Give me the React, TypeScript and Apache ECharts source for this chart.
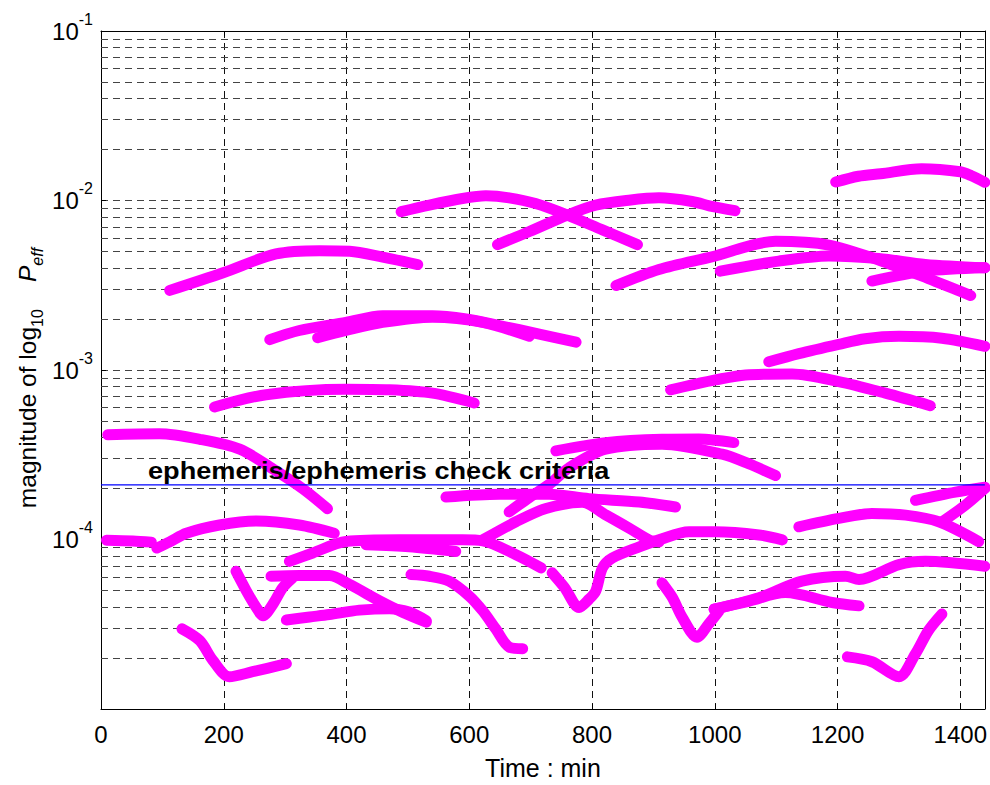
import React, { useEffect, useRef } from 'react';
import * as echarts from 'echarts';

// ---- axes / ticks ----
const xMin = 0;
const xMax = 1440;
const xInterval = 200;
const yMin = 1e-5;
const yMax = 1e-1;
const yMinorGrid = [
  2e-5, 3e-5, 4e-5, 5e-5, 6e-5, 7e-5, 8e-5, 9e-5,
  2e-4, 3e-4, 4e-4, 5e-4, 6e-4, 7e-4, 8e-4, 9e-4,
  2e-3, 3e-3, 4e-3, 5e-3, 6e-3, 7e-3, 8e-3, 9e-3,
  2e-2, 3e-2, 4e-2, 5e-2, 6e-2, 7e-2, 8e-2, 9e-2,
];
const criteriaValue = 2.1e-4;
const criteriaText = 'ephemeris/ephemeris check criteria';
const xAxisTitle = 'Time : min';

// ---- arcs: [time (min), P_eff] ----
const arcTopRight = [[1197, 0.01285], [1234, 0.0139], [1270, 0.01438], [1337, 0.01538], [1400, 0.01477], [1418, 0.014], [1440, 0.0128]];
const arcA = [[489, 0.00859], [535, 0.00939], [589, 0.01027], [627, 0.01065], [665, 0.01037], [708, 0.0096], [760, 0.00821], [817, 0.00671], [874, 0.00549]];
const arcB = [[646, 0.00549], [698, 0.00656], [760, 0.00821], [806, 0.00939], [860, 0.01004], [909, 0.01037], [963, 0.00987], [995, 0.00923], [1033, 0.00871]];
const arcC = [[112, 0.00295], [199, 0.00375], [285, 0.00484], [356, 0.00506], [405, 0.00502], [459, 0.00463], [516, 0.00419]];
const arcD = [[839, 0.00315], [909, 0.00392], [995, 0.00465], [1099, 0.00574], [1186, 0.00546], [1267, 0.00446], [1348, 0.00346], [1417, 0.00275]];
const arcE = [[1009, 0.00383], [1104, 0.00439], [1186, 0.00471], [1267, 0.00455], [1343, 0.0042], [1440, 0.00401]];
const arcF = [[1256, 0.00335], [1343, 0.00383], [1440, 0.00401]];
const arcG = [[275, 0.00151], [323, 0.00171], [399, 0.00191], [459, 0.00209], [540, 0.00209], [595, 0.002], [649, 0.00183], [714, 0.00163], [774, 0.00146]];
const arcH = [[353, 0.00155], [399, 0.00171], [459, 0.00191], [540, 0.00205], [622, 0.00191], [698, 0.00158]];
const arcI = [[185, 0.000605], [269, 0.000715], [399, 0.00077], [470, 0.000764], [540, 0.00073], [608, 0.000639]];
const arcJ = [[1088, 0.001118], [1137, 0.00125], [1202, 0.001418], [1245, 0.00153], [1300, 0.001579], [1370, 0.00154], [1440, 0.00138]];
const arcK = [[928, 0.000764], [963, 0.000817], [1001, 0.000874], [1050, 0.000935], [1126, 0.000948], [1202, 0.000855], [1278, 0.00073], [1351, 0.000616]];
const arcL = [[11, 4.15e-4], [95, 4.2e-4], [161, 3.9e-4], [226, 3.41e-4], [280, 2.61e-4], [329, 1.99e-4], [369, 1.52e-4]];
const arcM1 = [[9, 0.99e-4], [52, 0.98e-4], [82, 0.965e-4]];
const arcM2 = [[91, 0.89e-4], [112, 0.968e-4], [139, 1.088e-4], [193, 1.217e-4], [253, 1.284e-4], [323, 1.217e-4], [380, 1.088e-4]];
const arcN = [[307, 0.743e-4], [345, 0.833e-4], [399, 0.972e-4], [486, 0.995e-4], [589, 0.995e-4], [622, 0.981e-4], [676, 0.813e-4], [717, 0.68e-4]];
const arcN2 = [[432, 0.93e-4], [502, 0.905e-4], [578, 0.85e-4]];
const arcO = [[622, 0.995e-4], [676, 1.272e-4], [725, 1.523e-4], [784, 1.658e-4], [823, 1.392e-4], [860, 1.169e-4], [893, 0.995e-4], [909, 0.968e-4]];
const arcS = [[505, 0.621e-4], [535, 0.607e-4], [567, 0.568e-4], [600, 0.464e-4], [622, 0.379e-4], [643, 0.297e-4], [665, 0.232e-4], [687, 0.227e-4]];
const arcP = [[277, 0.607e-4], [323, 0.613e-4], [372, 0.613e-4], [405, 0.543e-4], [454, 0.434e-4], [492, 0.371e-4], [530, 0.325e-4]];
const arcQ = [[302, 0.335e-4], [340, 0.349e-4], [372, 0.361e-4], [421, 0.383e-4], [470, 0.391e-4], [502, 0.373e-4], [530, 0.332e-4]];
const arcR = [[132, 0.297e-4], [161, 0.253e-4], [182, 0.194e-4], [209, 0.155e-4], [247, 0.166e-4], [302, 0.185e-4]];
const arcV1 = [[220, 0.649e-4], [237, 0.496e-4], [253, 0.397e-4], [264, 0.355e-4], [280, 0.415e-4], [296, 0.519e-4], [312, 0.594e-4]];
const arcT = [[735, 0.636e-4], [755, 0.522e-4], [779, 0.397e-4], [795, 0.444e-4], [806, 0.496e-4], [817, 0.68e-4], [833, 0.778e-4], [877, 0.906e-4], [909, 0.995e-4], [958, 1.112e-4], [1001, 1.112e-4], [1072, 1.064e-4], [1110, 0.995e-4]];
const arcW = [[1137, 1.189e-4], [1202, 1.332e-4], [1256, 1.424e-4], [1311, 1.392e-4], [1365, 1.272e-4], [1430, 0.972e-4]];
const arcX = [[1370, 1.267e-4], [1408, 1.592e-4], [1440, 2.0e-4]];
const arcEE = [[1327, 1.703e-4], [1392, 1.904e-4], [1440, 2.035e-4]];
const arcDD = [[562, 1.78e-4], [649, 1.849e-4], [730, 1.849e-4], [795, 1.742e-4], [877, 1.664e-4], [936, 1.556e-4]];
const arcCC = [[665, 1.455e-4], [698, 1.773e-4], [730, 2.111e-4], [763, 2.655e-4], [822, 3.41e-4], [914, 3.65e-4], [1012, 3.19e-4], [1055, 2.8e-4], [1099, 2.383e-4]];
const arcBB = [[741, 3.335e-4], [822, 3.73e-4], [914, 3.904e-4], [974, 3.92e-4], [1031, 3.73e-4]];
const arcY = [[914, 0.555e-4], [931, 0.454e-4], [947, 0.347e-4], [971, 0.265e-4], [990, 0.317e-4], [1007, 0.379e-4]];
const arcZ = [[999, 0.388e-4], [1072, 0.454e-4], [1142, 0.568e-4], [1213, 0.607e-4], [1235, 0.581e-4], [1300, 0.711e-4], [1343, 0.743e-4], [1440, 0.695e-4]];
const arcAA = [[999, 0.388e-4], [1055, 0.432e-4], [1115, 0.486e-4], [1191, 0.425e-4], [1235, 0.406e-4]];
const arcAB = [[1216, 0.203e-4], [1256, 0.19e-4], [1300, 0.155e-4], [1327, 0.212e-4], [1348, 0.29e-4], [1370, 0.363e-4]];

const allArcs = [
  arcTopRight, arcA, arcB, arcC, arcD, arcE, arcF, arcG, arcH, arcI, arcJ, arcK,
  arcL, arcM1, arcM2, arcN, arcN2, arcO, arcS, arcP, arcQ, arcR, arcV1, arcT,
  arcW, arcX, arcEE, arcDD, arcCC, arcBB, arcY, arcZ, arcAA, arcAB,
];

const FONT = '"Liberation Sans", Arial, sans-serif';

export default function App() {
  const ref = useRef<HTMLDivElement>(null);
  useEffect(() => {
    if (!ref.current) return;
    const chart = echarts.init(ref.current, undefined, { renderer: 'svg' });
    const gridDash = [7, 5];
    const arcSeries = allArcs.map((d) => ({
      type: 'line',
      data: d,
      symbol: 'none',
      smooth: 0.3,
      silent: true,
      z: 3,
      color: '#ff00ff',
      lineStyle: { color: '#ff00ff', width: 11, cap: 'round', join: 'round' },
    }));
    const option: any = {
      animation: false,
      grid: { left: 101, top: 31, width: 887, height: 686, containLabel: false },
      xAxis: [
        {
          type: 'value', min: xMin, max: xMax, interval: xInterval,
          axisLine: { show: true, onZero: false, lineStyle: { color: '#000', width: 1 } },
          axisTick: { show: true, inside: true, length: 5, lineStyle: { color: '#000' } },
          axisLabel: {
            show: true, margin: 13, showMaxLabel: false, color: '#000', fontSize: 24, fontFamily: FONT,
            formatter: (v: number) => String(v),
          },
          splitLine: { show: true, lineStyle: { type: gridDash, color: '#111', width: 1 } },
          name: xAxisTitle, nameLocation: 'middle', nameGap: 46,
          nameTextStyle: { color: '#000', fontSize: 25, fontFamily: FONT },
        },
        {
          type: 'value', min: xMin, max: xMax, interval: xInterval, position: 'top',
          axisLine: { show: true, onZero: false, lineStyle: { color: '#000', width: 1 } },
          axisTick: { show: true, inside: true, length: 5, lineStyle: { color: '#000' } },
          axisLabel: { show: false }, splitLine: { show: false },
        },
      ],
      yAxis: [
        {
          type: 'log', logBase: 10, min: yMin, max: yMax,
          axisLine: { show: true, onZero: false, lineStyle: { color: '#000', width: 1 } },
          axisTick: { show: true, inside: true, length: 5, lineStyle: { color: '#000' } },
          axisLabel: {
            show: true, margin: 8, color: '#000', fontFamily: FONT, showMinLabel: false,
            formatter: (v: number) => `{a|10}{b|${Math.round(Math.log10(v))}}`,
            rich: {
              a: { fontSize: 24, lineHeight: 40, fontFamily: FONT, color: '#000' },
              b: { fontSize: 16, lineHeight: 16, verticalAlign: 'top', fontFamily: FONT, color: '#000' },
            },
          },
          splitLine: { show: true, lineStyle: { type: gridDash, color: '#444', width: 1 } },
        },
        {
          type: 'log', logBase: 10, min: yMin, max: yMax, position: 'right',
          axisLine: { show: true, onZero: false, lineStyle: { color: '#000', width: 1 } },
          axisTick: { show: true, inside: true, length: 5, lineStyle: { color: '#000' } },
          axisLabel: { show: false }, splitLine: { show: false },
        },
      ],
      series: [
        {
          type: 'line', data: [[xMin, yMin]], symbol: 'none', silent: true, z: 1,
          color: '#444',
          lineStyle: { opacity: 0 },
          markLine: {
            silent: true, symbol: ['none', 'none'], label: { show: false }, precision: 12,
            lineStyle: { type: gridDash, color: '#444', width: 1 },
            data: yMinorGrid.map((v) => ({ yAxis: v })),
            z: 1,
          },
        },
        ...arcSeries,
        {
          type: 'line',
          data: [[xMin, criteriaValue], [xMax, criteriaValue]],
          symbol: 'none', silent: true, z: 5,
          color: '#0000ff',
          lineStyle: { type: 'solid', color: '#0000ff', width: 1.2 },
        },
      ],
      graphic: [
        {
          type: 'text', x: 148, y: 471, scaleX: 1.18, z: 10,
          style: {
            text: criteriaText, fontSize: 23, fontWeight: 'bold', fontFamily: FONT,
            fill: '#000', align: 'left', verticalAlign: 'middle',
          },
        },
        {
          type: 'text', x: 27, y: 378, rotation: Math.PI / 2, z: 10,
          style: {
            text: '{a|magnitude of log}{s|10}{a|    }{p|P}{e|eff}',
            align: 'center', verticalAlign: 'middle', fill: '#000',
            rich: {
              a: { fontSize: 24.5, lineHeight: 36, fontFamily: FONT, fill: '#000' },
              s: { fontSize: 16, lineHeight: 16, verticalAlign: 'bottom', fontFamily: FONT, fill: '#000' },
              p: { fontSize: 24.5, lineHeight: 36, fontStyle: 'italic', fontFamily: FONT, fill: '#000' },
              e: { fontSize: 16, lineHeight: 16, verticalAlign: 'bottom', fontStyle: 'italic', fontFamily: FONT, fill: '#000' },
            },
          },
        },
      ],
    };
    chart.setOption(option);
    return () => chart.dispose();
  }, []);
  return (
    <div
      ref={ref}
      style={{ position: 'fixed', left: 0, top: 0, width: 990, height: 785, background: '#fff' }}
    />
  );
}
